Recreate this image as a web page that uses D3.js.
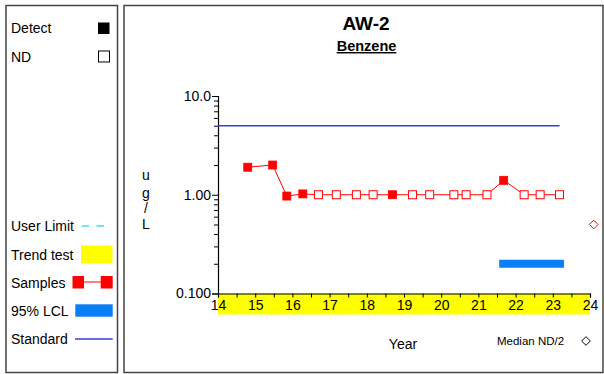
<!DOCTYPE html>
<html>
<head>
<meta charset="utf-8">
<script src="https://cdn.jsdelivr.net/npm/d3@7"></script>
<style>
  html, body { margin: 0; padding: 0; background: #fff; }
  svg { display: block; font-family: "Liberation Sans", Arial, sans-serif; }
</style>
</head>
<body>
<svg id="chart" width="604" height="374"></svg>
<script>
// Benzene results at well AW-2 (ug/L), decimal year (20xx)
const sampleYears  = [14.80, 15.47, 15.85, 16.28, 16.70, 17.18, 17.72, 18.17, 18.69, 19.23, 19.69, 20.34, 20.67, 21.23, 21.68, 22.23, 22.66, 23.18];
const sampleValues = [1.9, 2.0, 0.97, 1.02, 1.0, 1.0, 1.0, 1.0, 1.0, 1.0, 1.0, 1.0, 1.0, 1.0, 1.4, 1.0, 1.0, 1.0];
const sampleDetect = [true, true, true, true, false, false, false, false, true, false, false, false, false, false, true, false, false, false];

const standardValue = 5;
const standardSpan = [14, 23.18];
const lclValue = 0.2;
const lclSpan = [21.56, 23.30];
const medianNDhalf = 0.5;
const medianYear = 24.1;

const xTicks = [14, 15, 16, 17, 18, 19, 20, 21, 22, 23, 24];
const yMajorTicks = [0.1, 1, 10];
const yTickLabels = ["0.100", "1.00", "10.0"];

const svg = d3.select("#chart");
const frame = "#444";

// panel frames
svg.append("rect").attr("x", 6).attr("y", 5.5).attr("width", 111.5).attr("height", 367)
  .attr("fill", "none").attr("stroke", frame).attr("stroke-width", 1.5);
svg.append("rect").attr("x", 124).attr("y", 5.5).attr("width", 479).attr("height", 367)
  .attr("fill", "none").attr("stroke", frame).attr("stroke-width", 1.5);

// legend panel
const leg = svg.append("g").attr("font-size", 14).attr("fill", "#000");
leg.append("text").attr("x", 11).attr("y", 33).text("Detect");
leg.append("rect").attr("x", 98).attr("y", 22.5).attr("width", 11.5).attr("height", 11.5).attr("fill", "#000");
leg.append("text").attr("x", 11).attr("y", 62).text("ND");
leg.append("rect").attr("x", 98.5).attr("y", 51).attr("width", 11).attr("height", 11)
  .attr("fill", "#fff").attr("stroke", "#000").attr("stroke-width", 1);

leg.append("text").attr("x", 11).attr("y", 231).text("User Limit");
leg.append("line").attr("x1", 81.5).attr("x2", 105).attr("y1", 226).attr("y2", 226)
  .attr("stroke", "#40e0f0").attr("stroke-width", 1.5).attr("stroke-dasharray", "7.5,7.5");

leg.append("text").attr("x", 11).attr("y", 260).text("Trend test");
leg.append("rect").attr("x", 81).attr("y", 245.5).attr("width", 31.5).attr("height", 18).attr("fill", "#ffff00");

leg.append("text").attr("x", 11).attr("y", 288).text("Samples");
leg.append("line").attr("x1", 78).attr("x2", 106).attr("y1", 282).attr("y2", 282).attr("stroke", "#ff0000").attr("stroke-width", 1);
leg.append("rect").attr("x", 72.5).attr("y", 276).attr("width", 11.5).attr("height", 12.5).attr("fill", "#ff0000");
leg.append("rect").attr("x", 100.7).attr("y", 276).attr("width", 12).attr("height", 12.5).attr("fill", "#ff0000");

leg.append("text").attr("x", 11).attr("y", 316).text("95% LCL");
leg.append("rect").attr("x", 75.3).attr("y", 304.3).attr("width", 37.4).attr("height", 12.4).attr("fill", "#0a7ef5");

leg.append("text").attr("x", 11).attr("y", 344).text("Standard");
leg.append("line").attr("x1", 75).attr("x2", 112.7).attr("y1", 339).attr("y2", 339).attr("stroke", "#3a3adc").attr("stroke-width", 1.3);

// titles
svg.append("text").attr("x", 366).attr("y", 30).attr("text-anchor", "middle")
  .attr("font-size", 19).attr("font-weight", "bold").text("AW-2");
svg.append("text").attr("x", 366.5).attr("y", 51).attr("text-anchor", "middle")
  .attr("font-size", 14.5).attr("font-weight", "bold").attr("text-decoration", "underline").text("Benzene");

// scales
const x = d3.scaleLinear().domain([14, 24]).range([218, 590]);
const y = d3.scaleLog().domain([0.1, 10]).range([293.5, 96]);

// trend-test band behind x axis
svg.append("rect").attr("x", x(14)).attr("y", y(0.1)).attr("width", x(24) - x(14)).attr("height", 21)
  .attr("fill", "#ffff00");

// x axis: ticks every half year, labels on whole years
const halfYears = d3.range(14, 24.01, 0.5);
const xAxis = d3.axisBottom(x).tickValues(halfYears).tickSize(4).tickPadding(4)
  .tickFormat(d => xTicks.includes(d) ? d : "");
const gx = svg.append("g").attr("transform", `translate(0,${y(0.1)})`).call(xAxis);
gx.select(".domain").attr("stroke", "#000").attr("stroke-width", 1.2);
gx.selectAll(".tick line").attr("stroke", "#000");
gx.selectAll(".tick text").attr("font-size", 14).attr("fill", "#000")
  .attr("font-family", "Liberation Sans, Arial, sans-serif").attr("dy", "0.6em");

// y axis: log, major at decades, minor at 2..9
const minor = [];
[0.1, 1].forEach(d => { for (let k = 2; k <= 9; k++) minor.push(d * k); });
const gyMinor = svg.append("g").attr("transform", `translate(${x(14)},0)`)
  .call(d3.axisLeft(y).tickValues(minor).tickSize(4).tickFormat(""));
gyMinor.select(".domain").remove();
gyMinor.selectAll(".tick line").attr("stroke", "#000");
const gy = svg.append("g").attr("transform", `translate(${x(14)},0)`)
  .call(d3.axisLeft(y).tickValues(yMajorTicks).tickSize(6).tickPadding(1)
    .tickFormat((d, i) => yTickLabels[i]));
gy.select(".domain").attr("stroke", "#000").attr("stroke-width", 1.2);
gy.selectAll(".tick line").attr("stroke", "#000");
gy.selectAll(".tick text").attr("font-size", 14).attr("fill", "#000")
  .attr("font-family", "Liberation Sans, Arial, sans-serif");

// y axis title, stacked letters
const yLab = ["u", "g", "/", "L"];
const yLabY = [180, 198, 213, 229];
svg.append("g").attr("font-size", 14).attr("text-anchor", "middle").selectAll("text")
  .data(yLab).join("text").attr("x", 146).attr("y", (d, i) => yLabY[i]).text(d => d);

// x axis title
svg.append("text").attr("x", 403).attr("y", 349).attr("text-anchor", "middle").attr("font-size", 14).text("Year");

// standard line
svg.append("line").attr("x1", x(standardSpan[0])).attr("x2", x(standardSpan[1]))
  .attr("y1", y(standardValue)).attr("y2", y(standardValue))
  .attr("stroke", "#3a3adc").attr("stroke-width", 1.3);

// 95% LCL
svg.append("line").attr("x1", x(lclSpan[0])).attr("x2", x(lclSpan[1]))
  .attr("y1", y(lclValue)).attr("y2", y(lclValue))
  .attr("stroke", "#0a7ef5").attr("stroke-width", 8);

// samples line and markers
const samples = sampleYears.map((yr, i) => ({ yr, v: sampleValues[i], det: sampleDetect[i] }));
svg.append("path").datum(samples)
  .attr("d", d3.line().x(d => x(d.yr)).y(d => y(d.v)))
  .attr("fill", "none").attr("stroke", "#ff0000").attr("stroke-width", 1);
const s = 8;
svg.append("g").selectAll("rect").data(samples).join("rect")
  .attr("x", d => x(d.yr) - s / 2).attr("y", d => y(d.v) - s / 2)
  .attr("width", s).attr("height", s)
  .attr("fill", d => d.det ? "#ff0000" : "#fff")
  .attr("stroke", "#ff0000").attr("stroke-width", d => d.det ? 0.8 : 1);

// median ND/2 marker
const diamond = d3.symbol().type(d3.symbolDiamond2).size(48);
svg.append("path").attr("d", diamond)
  .attr("transform", `translate(${x(medianYear)},${y(medianNDhalf)})`)
  .attr("fill", "#fff").attr("stroke", "#ff0000").attr("stroke-width", 1);
svg.append("text").attr("x", 497).attr("y", 345).attr("font-size", 11.5).text("Median ND/2");
svg.append("path").attr("d", diamond)
  .attr("transform", `translate(586,341)`)
  .attr("fill", "#fff").attr("stroke", "#000").attr("stroke-width", 1);
</script>
</body>
</html>
